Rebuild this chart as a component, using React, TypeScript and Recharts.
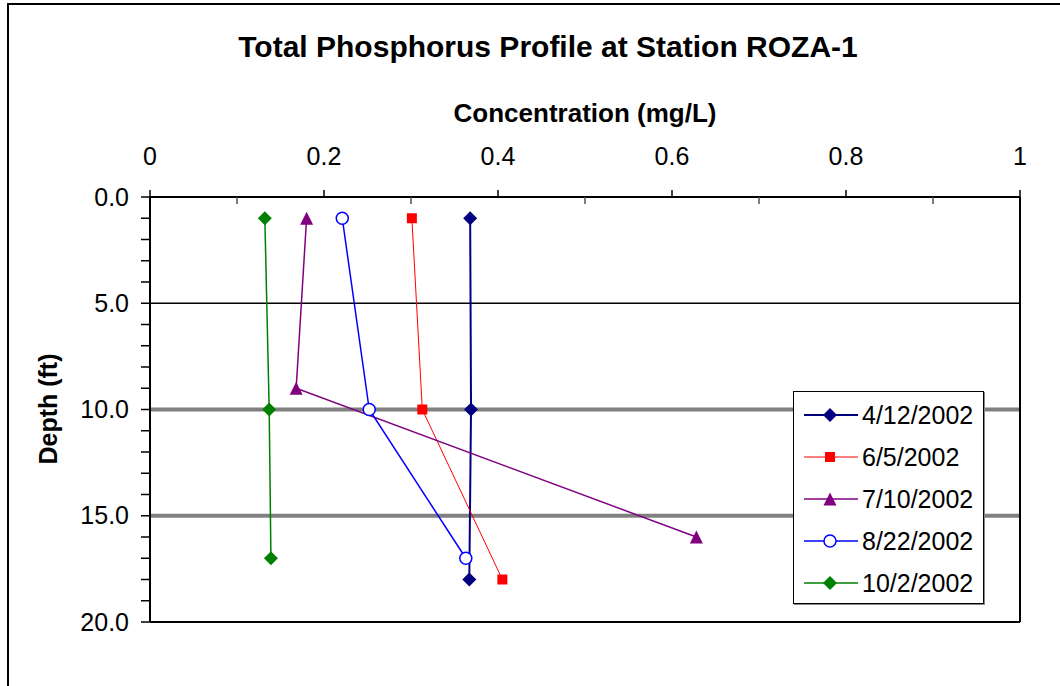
import React from "react";
import {
  ScatterChart,
  Scatter,
  XAxis,
  YAxis,
  ReferenceLine,
  Legend,
} from "recharts";

// concentration (mg/L) and depth (ft) per sampling date
const depthApr = [1, 10, 18];
const concApr = [0.368, 0.369, 0.367];
const depthJun = [1, 10, 18];
const concJun = [0.301, 0.313, 0.405];
const depthJul = [1, 9, 16];
const concJul = [0.18, 0.168, 0.628];
const depthAug = [1, 10, 17];
const concAug = [0.221, 0.252, 0.363];
const depthOct = [1, 10, 17];
const concOct = [0.132, 0.137, 0.139];

const xTicks = [0, 0.1, 0.2, 0.3, 0.4, 0.5, 0.6, 0.7, 0.8, 0.9, 1];
const xLabels = [0, 0.2, 0.4, 0.6, 0.8, 1];
const yTicks = [0, 1, 2, 3, 4, 5, 6, 7, 8, 9, 10, 11, 12, 13, 14, 15, 16, 17, 18, 19, 20];
const yLabels = [0, 5, 10, 15, 20];

const toPoints = (conc: number[], depth: number[]) =>
  conc.map((c, i) => ({ conc: c, depth: depth[i] }));

const series = [
  { name: "4/12/2002", color: "#000080", kind: "diamond", lw: 2, data: toPoints(concApr, depthApr) },
  { name: "6/5/2002", color: "#FF0000", kind: "square", lw: 1, data: toPoints(concJun, depthJun) },
  { name: "7/10/2002", color: "#800080", kind: "triangle", lw: 1.5, data: toPoints(concJul, depthJul) },
  { name: "8/22/2002", color: "#0000FF", kind: "circle", lw: 1.5, data: toPoints(concAug, depthAug) },
  { name: "10/2/2002", color: "#008000", kind: "diamond", lw: 1.5, data: toPoints(concOct, depthOct) },
];

const FONT = "'Liberation Sans', Arial, sans-serif";

function Marker({ cx, cy, kind, color }: any) {
  if (cx == null || cy == null) return null;
  if (kind === "diamond")
    return (
      <polygon
        points={`${cx},${cy - 7} ${cx + 7},${cy} ${cx},${cy + 7} ${cx - 7},${cy}`}
        fill={color}
      />
    );
  if (kind === "square")
    return <rect x={cx - 5} y={cy - 5} width={10} height={10} fill={color} />;
  if (kind === "triangle")
    return (
      <polygon
        points={`${cx},${cy - 6.5} ${cx + 6.5},${cy + 6.5} ${cx - 6.5},${cy + 6.5}`}
        fill={color}
      />
    );
  return <circle cx={cx} cy={cy} r={6} fill="#fff" stroke={color} strokeWidth={1.5} />;
}

function XTick({ x, y, payload }: any) {
  const v = payload.value;
  const major = xLabels.some((l) => Math.abs(l - v) < 1e-9);
  if (!major)
    return <line x1={x} x2={x} y1={y} y2={y + 7} stroke="#555" strokeWidth={1.5} />;
  return (
    <g>
      <line x1={x} x2={x} y1={y - 7} y2={y} stroke="#000" strokeWidth={1.5} />
      <text x={x} y={y - 32} textAnchor="middle" fontSize={25} fontFamily={FONT} fill="#000">
        {String(v)}
      </text>
    </g>
  );
}

function YTick({ x, y, payload }: any) {
  const v = payload.value;
  const major = yLabels.includes(v);
  return (
    <g>
      <line x1={x - 9} x2={x} y1={y} y2={y} stroke="#000" strokeWidth={1.5} />
      {major && (
        <text x={x - 21} y={y + 8.5} textAnchor="end" fontSize={25} fontFamily={FONT} fill="#000">
          {v.toFixed(1)}
        </text>
      )}
    </g>
  );
}

function LegendBox() {
  return (
    <div
      style={{
        width: 189,
        height: 209,
        border: "1px solid #000",
        boxShadow: "1px 1px 0 #888",
        background: "#fff",
        fontFamily: FONT,
        fontSize: 25,
        paddingTop: 2,
        boxSizing: "content-box",
      }}
    >
      {series.map((s) => (
        <div key={s.name} style={{ height: 42, display: "flex", alignItems: "center" }}>
          <svg width={68} height={20} style={{ flex: "none" }}>
            <line x1={10} x2={64} y1={10} y2={10} stroke={s.color} strokeWidth={s.lw} />
            <Marker cx={36} cy={10} kind={s.kind} color={s.color} />
          </svg>
          <span style={{ lineHeight: "25px" }}>{s.name}</span>
        </div>
      ))}
    </div>
  );
}

export default function App() {
  return (
    <div style={{ position: "relative", width: 1060, height: 686, overflow: "hidden", background: "#fff" }}>
      <style>{`body{margin:0}`}</style>
      <div
        style={{
          position: "absolute",
          left: 7,
          top: 3,
          width: 1200,
          height: 800,
          border: "2px solid #000",
        }}
      />
      <div
        style={{
          position: "absolute",
          left: 0,
          width: 1096,
          top: 29,
          textAlign: "center",
          fontFamily: FONT,
          fontWeight: "bold",
          fontSize: 30,
          lineHeight: "36px",
        }}
      >
        Total Phosphorus Profile at Station ROZA-1
      </div>
      <div
        style={{
          position: "absolute",
          left: 150,
          width: 870,
          top: 97,
          textAlign: "center",
          fontFamily: FONT,
          fontWeight: "bold",
          fontSize: 26,
          lineHeight: "32px",
        }}
      >
        Concentration (mg/L)
      </div>
      <div
        style={{
          position: "absolute",
          left: 48 - 100,
          top: 409 - 16,
          width: 200,
          textAlign: "center",
          transform: "rotate(-90deg)",
          fontFamily: FONT,
          fontWeight: "bold",
          fontSize: 25,
          lineHeight: "32px",
        }}
      >
        Depth (ft)
      </div>
      <div style={{ position: "absolute", left: 0, top: 0 }}>
        <ScatterChart width={1060} height={686} margin={{ top: 157, right: 40, bottom: 64, left: 90 }}>
          <XAxis
            type="number"
            dataKey="conc"
            orientation="top"
            domain={[0, 1]}
            ticks={xTicks}
            interval={0}
            height={40}
            tickSize={0}
            tickMargin={0}
            tickLine={false}
            axisLine={{ stroke: "#000", strokeWidth: 2 }}
            tick={<XTick />}
          />
          <YAxis
            type="number"
            dataKey="depth"
            domain={[0, 20]}
            reversed
            ticks={yTicks}
            interval={0}
            width={60}
            tickSize={0}
            tickMargin={0}
            tickLine={false}
            axisLine={{ stroke: "#000", strokeWidth: 2 }}
            tick={<YTick />}
          />
          <ReferenceLine y={5} stroke="#000" strokeWidth={1.5} />
          <ReferenceLine y={10} stroke="#808080" strokeWidth={4} />
          <ReferenceLine y={15} stroke="#808080" strokeWidth={4} />
          <ReferenceLine y={20} stroke="#000" strokeWidth={2} />
          <ReferenceLine x={1} stroke="#000" strokeWidth={2} />
          {series.map((s) => (
            <Scatter
              key={s.name}
              name={s.name}
              data={s.data}
              line={{ stroke: s.color, strokeWidth: s.lw }}
              lineType="joint"
              shape={(p: any) => <Marker cx={p.cx} cy={p.cy} kind={s.kind} color={s.color} />}
              isAnimationActive={false}
            />
          ))}
          <Legend
            layout="vertical"
            align="center"
            verticalAlign="middle"
            wrapperStyle={{ left: 793, top: 391, width: 191, height: 211 }}
            content={() => <LegendBox />}
          />
        </ScatterChart>
      </div>
    </div>
  );
}
